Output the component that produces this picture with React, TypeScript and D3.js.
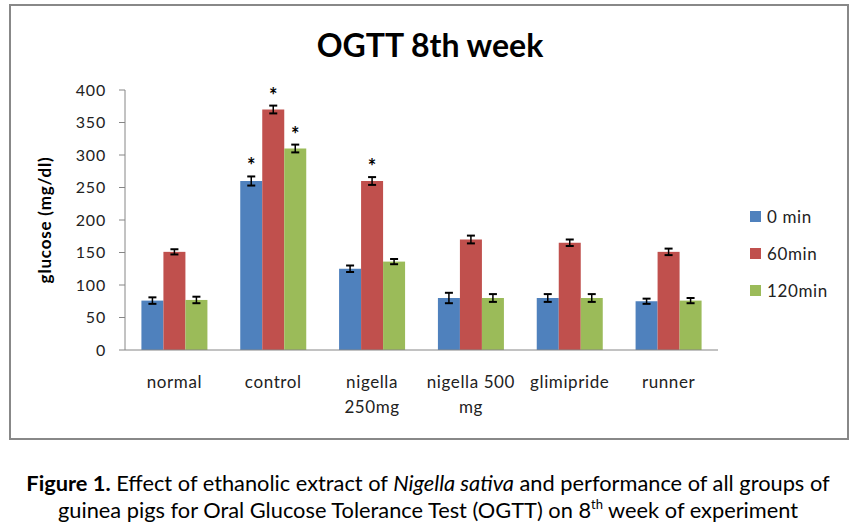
import React from "react";
import * as d3 from "d3";

const categories = ["normal", "control", "nigella 250mg", "nigella 500 mg", "glimipride", "runner"];
const categoryLines = [["normal"], ["control"], ["nigella", "250mg"], ["nigella 500", "mg"], ["glimipride"], ["runner"]];
const seriesNames = ["0 min", "60min", "120min"];
const min0 = [76, 260, 125, 80, 80, 75];
const min60 = [151, 370, 260, 170, 165, 151];
const min120 = [77, 310, 136, 80, 80, 76];
const err0 = [5, 7, 5, 8, 6, 4];
const err60 = [4, 6, 6, 6, 5, 5];
const err120 = [5, 6, 4, 6, 6, 4];
const sig0 = [false, true, false, false, false, false];
const sig60 = [false, true, true, false, false, false];
const sig120 = [false, true, false, false, false, false];
const yTicks = [0, 50, 100, 150, 200, 250, 300, 350, 400];
const colors = ["#4F81BD", "#C0504D", "#9BBB59"];

export default function App() {
  const W = 858, H = 528;
  const left = 125, right = 718, top = 90, bottom = 350;
  const x = d3.scaleBand<string>().domain(categories).range([left, right]).paddingInner(0).paddingOuter(0);
  const y = d3.scaleLinear().domain([0, 400]).range([bottom, top]);
  const values = [min0, min60, min120];
  const errs = [err0, err60, err120];
  const sigs = [sig0, sig60, sig120];
  const font = "Lato, 'Open Sans', sans-serif";
  const groupW = 66;
  const bw = groupW / 3;

  return (
    <svg width={W} height={H} style={{ position: "absolute", left: 0, top: 0, background: "#fff" }} fontFamily={font}>
      <rect x={10} y={5} width={838} height={434} fill="#fff" stroke="#888" strokeWidth={2} />
      <text x={430} y={57} textAnchor="middle" fontSize={32} fontWeight="bold" fill="#000">OGTT 8th week</text>
      {/* y axis */}
      <line x1={left} x2={left} y1={top} y2={bottom} stroke="#868686" />
      {yTicks.map(t => (
        <g key={t}>
          <line x1={left - 6} x2={left} y1={y(t)} y2={y(t)} stroke="#868686" />
          <text x={106} y={y(t)} dy="0.35em" textAnchor="end" fontSize={16} letterSpacing={0.8} fill="#222">{t}</text>
        </g>
      ))}
      <text transform={`translate(51,${(top + bottom) / 2}) rotate(-90)`} textAnchor="middle" fontSize={17} letterSpacing={0.8} fontWeight="bold" fill="#000">glucose (mg/dl)</text>
      {/* bars */}
      {categories.map((c, i) => {
        const cx = (x(c) as number) + x.bandwidth() / 2;
        return (
          <g key={c}>
            {values.map((vals, s) => {
              const bx = cx - groupW / 2 + s * bw;
              const v = vals[i];
              const e = errs[s][i];
              const mx = bx + bw / 2;
              return (
                <g key={s}>
                  <rect x={bx} y={y(v)} width={bw} height={y(0) - y(v)} fill={colors[s]} />
                  <line x1={mx} x2={mx} y1={y(v + e)} y2={y(v - e)} stroke="#000" strokeWidth={1.5} />
                  <line x1={mx - 4} x2={mx + 4} y1={y(v + e)} y2={y(v + e)} stroke="#000" strokeWidth={2} />
                  <line x1={mx - 4} x2={mx + 4} y1={y(v - e)} y2={y(v - e)} stroke="#000" strokeWidth={2} />
                  {sigs[s][i] && (
                    <text x={mx} y={y(v + e) - 3} textAnchor="middle" fontSize={20} fontWeight="bold" fill="#000">*</text>
                  )}
                </g>
              );
            })}
            {categoryLines[i].map((ln, k) => (
              <text key={k} x={cx} y={388 + k * 25} textAnchor="middle" fontSize={17} letterSpacing={0.6} fill="#222">{ln}</text>
            ))}
          </g>
        );
      })}
      <line x1={left} x2={right} y1={bottom} y2={bottom} stroke="#868686" />
      {/* legend */}
      {seriesNames.map((n, s) => (
        <g key={n}>
          <rect x={750} y={211 + s * 37} width={11} height={11} fill={colors[s]} />
          <text x={767} y={217 + s * 37} dy="0.35em" fontSize={17} letterSpacing={0.6} fill="#222">{n}</text>
        </g>
      ))}
      {/* caption */}
      <text x={428} y={491} textAnchor="middle" fontSize={21.8} fill="#000">
        <tspan fontWeight="bold">Figure 1.</tspan>
        <tspan> Effect of ethanolic extract of </tspan>
        <tspan fontStyle="italic">Nigella sativa</tspan>
        <tspan> and performance of all groups of</tspan>
      </text>
      <text x={428} y={518} textAnchor="middle" fontSize={21.8} fill="#000">
        <tspan>guinea pigs for Oral Glucose Tolerance Test (OGTT) on 8</tspan>
        <tspan fontSize={13} dy={-9}>th</tspan>
        <tspan dy={9}> week of experiment</tspan>
      </text>
    </svg>
  );
}
